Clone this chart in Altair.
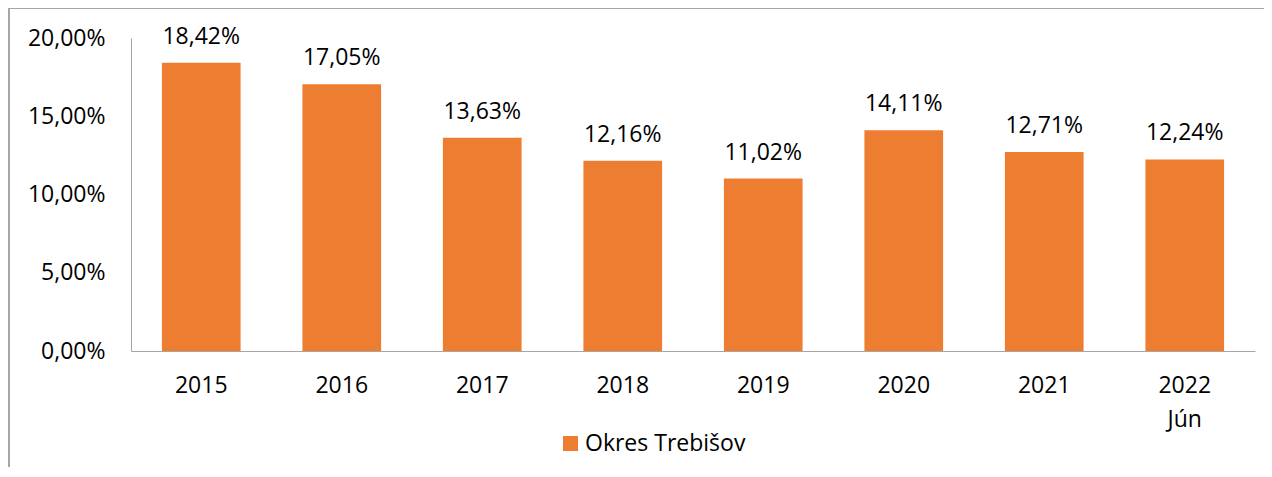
import altair as alt
import pandas as pd

years = ["2015", "2016", "2017", "2018", "2019", "2020", "2021", "2022 Jún"]
values = [0.1842, 0.1705, 0.1363, 0.1216, 0.1102, 0.1411, 0.1271, 0.1224]
series = "Okres Trebišov"
y_ticks = [0, 0.05, 0.10, 0.15, 0.20]

df = pd.DataFrame({"rok": years, "podiel": values, "seria": [series] * len(years)})

FONT = "Open Sans"
FS = 23
GREY = "#A6A6A6"
ORANGE = "#ED7D31"

base = alt.Chart(df)

bars = base.mark_bar(color=ORANGE).encode(
    x=alt.X("rok:N", sort=years, title=None,
            scale=alt.Scale(paddingInner=0.44, paddingOuter=0.22),
            axis=alt.Axis(labelAngle=0, labelExpr="split(datum.label, ' ')",
                          labelFontSize=FS, labelFont=FONT, labelColor="#000",
                          labelPadding=41, ticks=False, domainColor=GREY,
                          labelLineHeight=34, labelBaseline="alphabetic")),
    y=alt.Y("podiel:Q", title=None,
            scale=alt.Scale(domain=[0, 0.2], nice=False),
            axis=alt.Axis(values=y_ticks, grid=False, ticks=False,
                          labelExpr="replace(format(datum.value, '.2%'), '.', ',')",
                          labelFontSize=FS, labelFont=FONT, labelColor="#000",
                          labelPadding=26, domainColor=GREY)),
    fill=alt.Fill("seria:N", scale=alt.Scale(range=[ORANGE]),
                  legend=alt.Legend(title=None, orient="none", legendX=428, legendY=394,
                                    symbolType="square", symbolSize=225,
                                    symbolStrokeWidth=0, labelFontSize=FS,
                                    labelFont=FONT, labelColor="#000", padding=0,
                                    labelOffset=3, labelLimit=400)),
)

labels = base.transform_calculate(
    txt="replace(format(datum.podiel, '.2%'), '.', ',')"
).mark_text(dy=-19, baseline="alphabetic", fontSize=FS, font=FONT, color="#000").encode(
    x=alt.X("rok:N", sort=years),
    y=alt.Y("podiel:Q"),
    text="txt:N",
)

border_left = base.mark_rule(color=GREY, strokeWidth=1.5).encode(
    x=alt.value(-122), y=alt.value(-30), y2=alt.value(460)
)
border_top = base.mark_rule(color=GREY, strokeWidth=1.5).encode(
    x=alt.value(-122), x2=alt.value(1140), y=alt.value(-30)
)

chart = alt.layer(bars, labels, border_left, border_top).properties(
    width=1124, height=313,
    autosize=alt.AutoSizeParams(type="none"),
    padding={"left": 123, "top": 30, "right": 9, "bottom": 116},
).configure_view(stroke=None)

chart.save("out.html", embed_options={"renderer": "svg", "actions": False})
